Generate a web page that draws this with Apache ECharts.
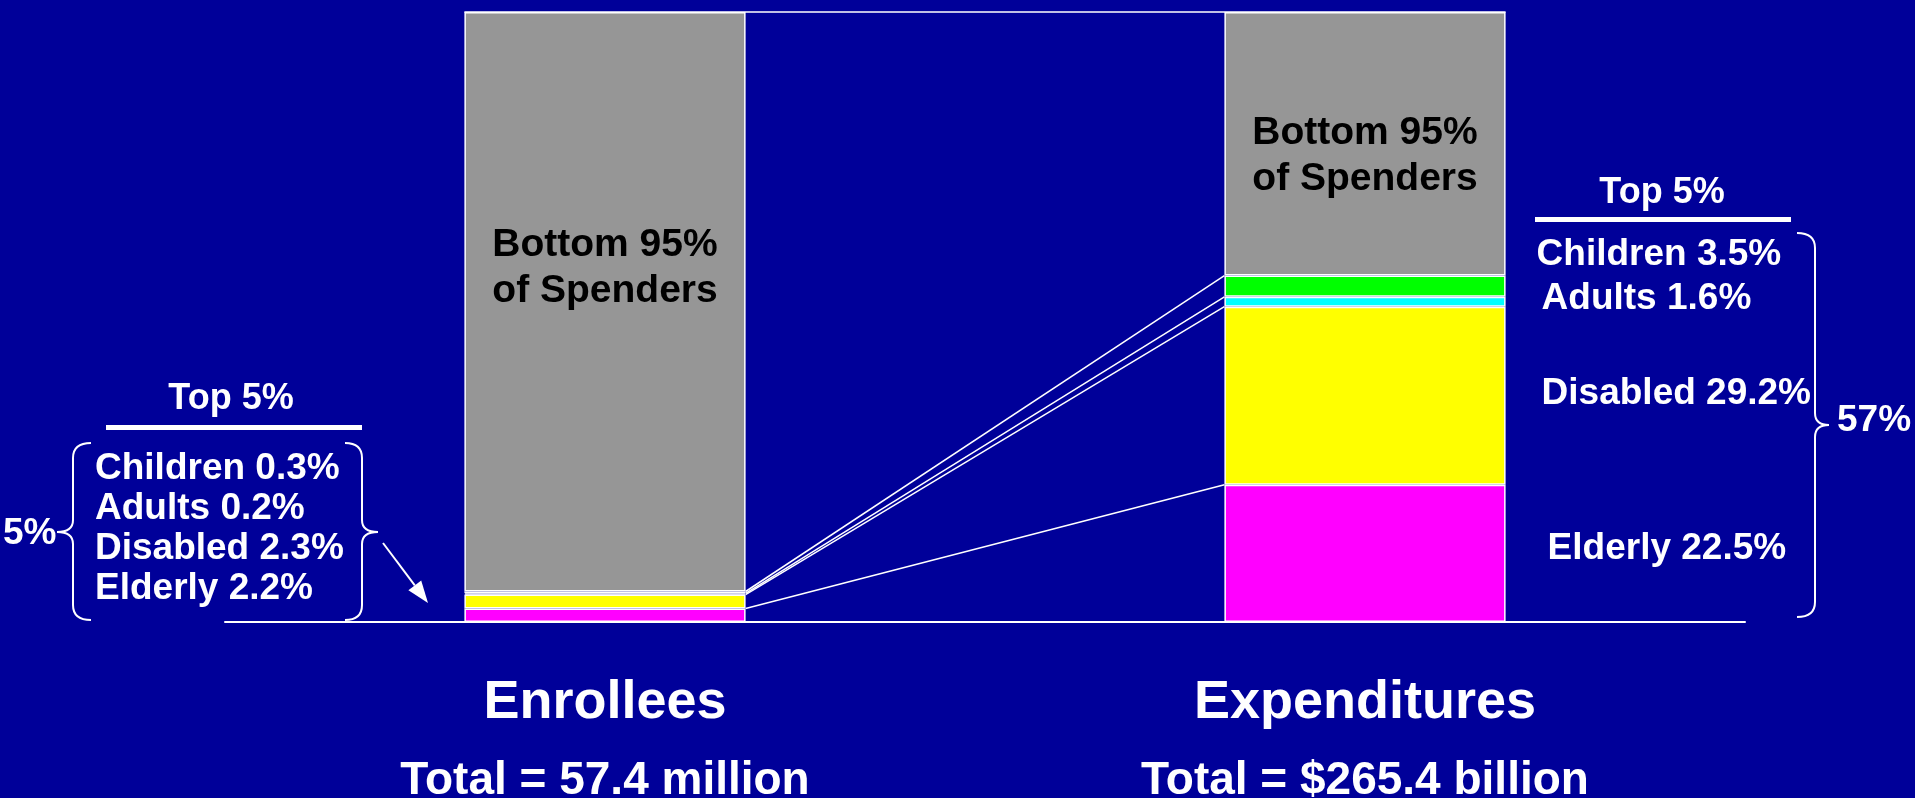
<!DOCTYPE html>
<html>
<head>
<meta charset="utf-8">
<script src="https://cdn.jsdelivr.net/npm/echarts@6/dist/echarts.min.js"></script>
<style>
  html, body { margin: 0; padding: 0; background: #000099; }
  #chart { width: 1915px; height: 798px; }
</style>
</head>
<body>
<div id="chart"></div>
<script>
// stacked from the baseline upward
var categories = ['Enrollees', 'Expenditures'];
var totals = ['Total = 57.4 million', 'Total = $265.4 billion'];
var elderly = [2.2, 22.5];
var disabled = [2.3, 29.2];
var adults = [0.2, 1.6];
var children = [0.3, 3.5];
var bottom95 = [95, 43.2];
var bottomLabel = 'Bottom 95%\nof Spenders';
var topLabel = 'Top 5%';

var FONT = '"Liberation Sans", Arial, sans-serif';
var BAR_FRAC = 0.37;

var groups = [
  { name: 'Elderly', data: elderly, color: '#ff00ff', off: [6, -5] },
  { name: 'Disabled', data: disabled, color: '#ffff00', off: [0, -2] },
  { name: 'Adults', data: adults, color: '#00ffff', off: [0, -3] },
  { name: 'Children', data: children, color: '#00ff00', off: [-5, -31] }
];

// cumulative tops of each top-5% segment, for the connector lines
var cumLeft = [], cumRight = [];
var accL = 0, accR = 0;
groups.forEach(function (g) {
  accL += g.data[0]; accR += g.data[1];
  cumLeft.push(+accL.toFixed(2)); cumRight.push(+accR.toFixed(2));
});

var chart = echarts.init(document.getElementById('chart'));

var series = groups.map(function (g) {
  return {
    name: g.name,
    type: 'bar',
    stack: 'all',
    barWidth: (BAR_FRAC * 100) + '%',
    itemStyle: { color: g.color, borderColor: '#ffffff', borderWidth: 1.5 },
    data: g.data.map(function (v, i) {
      return {
        value: v,
        label: i === 1 ? {
          show: true, position: 'right', distance: 36, offset: g.off,
          formatter: g.name + ' ' + v + '%',
          color: '#ffffff', fontFamily: FONT, fontWeight: 'bold', fontSize: 37
        } : { show: false }
      };
    })
  };
});

series.push({
  name: 'Bottom 95%',
  type: 'bar',
  stack: 'all',
  itemStyle: { color: '#969696', borderColor: '#ffffff', borderWidth: 1.5 },
  label: {
    show: true, position: 'inside', formatter: bottomLabel,
    color: '#000000', fontFamily: FONT, fontWeight: 'bold', fontSize: 39, lineHeight: 46
  },
  data: [
    { value: bottom95[0], label: { offset: [0, -34] } },
    { value: bottom95[1], label: { offset: [0, 12] } }
  ]
});

// connectors between the bars + top frame line
var linkData = cumLeft.map(function (v, i) { return [0, v, 1, cumRight[i], 0]; });
linkData.push([0, 100, 1, 100, 1]);
series.push({
  type: 'custom',
  z: 5,
  silent: true,
  encode: { x: [0, 2], y: [1, 3] },
  data: linkData,
  renderItem: function (params, api) {
    var a = api.coord([api.value(0), api.value(1)]);
    var b = api.coord([api.value(2), api.value(3)]);
    var half = api.size([1, 0])[0] * BAR_FRAC / 2;
    var isTop = api.value(4) === 1;
    return {
      type: 'line',
      shape: isTop
        ? { x1: a[0] - half, y1: a[1], x2: b[0] + half, y2: b[1] }
        : { x1: a[0] + half, y1: a[1], x2: b[0] - half, y2: b[1] },
      style: { stroke: '#ffffff', lineWidth: 1.5 }
    };
  }
});

function brace(xOut, xMid, xTip, yTop, yTip, yBot) {
  var r = 15, st = { stroke: '#ffffff', lineWidth: 2, fill: null };
  return [
    { type: 'bezierCurve', shape: { x1: xOut, y1: yTop, x2: xMid, y2: yTop + r, cpx1: xMid, cpy1: yTop }, style: st },
    { type: 'line', shape: { x1: xMid, y1: yTop + r, x2: xMid, y2: yTip - 12 }, style: st },
    { type: 'bezierCurve', shape: { x1: xMid, y1: yTip - 12, x2: xTip, y2: yTip, cpx1: xMid, cpy1: yTip }, style: st },
    { type: 'bezierCurve', shape: { x1: xTip, y1: yTip, x2: xMid, y2: yTip + 12, cpx1: xMid, cpy1: yTip }, style: st },
    { type: 'line', shape: { x1: xMid, y1: yTip + 12, x2: xMid, y2: yBot - r }, style: st },
    { type: 'bezierCurve', shape: { x1: xMid, y1: yBot - r, x2: xOut, y2: yBot, cpx1: xMid, cpy1: yBot }, style: st }
  ];
}

function txt(text, x, y, size, align, extra) {
  var s = {
    text: text, x: x, y: y, fill: '#ffffff',
    font: 'bold ' + size + 'px ' + FONT,
    textAlign: align || 'left', textVerticalAlign: 'middle'
  };
  if (extra) for (var k in extra) s[k] = extra[k];
  return { type: 'text', silent: true, style: s };
}

// left block lists top-5% groups from Children down to Elderly
var leftLines = groups.slice().reverse().map(function (g) {
  return g.name + ' ' + g.data[0] + '%';
}).join('\n');
var sumLeft = Math.round(cumLeft[cumLeft.length - 1]);
var sumRight = Math.round(cumRight[cumRight.length - 1]);

// arrow
var ax0 = 383, ay0 = 543, ax1 = 428, ay1 = 603;
var dx = ax1 - ax0, dy = ay1 - ay0, len = Math.sqrt(dx * dx + dy * dy);
var ux = dx / len, uy = dy / len, hl = 22, hw = 8;
var bx = ax1 - ux * hl, by = ay1 - uy * hl;

var graphics = [
  txt(topLabel, 231, 399, 36, 'center'),
  { type: 'rect', shape: { x: 106, y: 425, width: 256, height: 5 }, style: { fill: '#ffffff' } },
  txt(leftLines, 95, 529, 37, 'left', { lineHeight: 40 }),
  txt(sumLeft + '%', 3, 534, 37, 'left'),
  txt(topLabel, 1662, 193, 36, 'center'),
  { type: 'rect', shape: { x: 1535, y: 217, width: 256, height: 5 }, style: { fill: '#ffffff' } },
  txt(sumRight + '%', 1837, 421, 37, 'left'),
  { type: 'line', shape: { x1: ax0, y1: ay0, x2: bx, y2: by }, style: { stroke: '#ffffff', lineWidth: 2 } },
  { type: 'polygon', shape: { points: [[ax1, ay1], [bx - uy * hw, by + ux * hw], [bx + uy * hw, by - ux * hw]] }, style: { fill: '#ffffff' } }
].concat(brace(91, 73, 57, 443, 532, 620))
 .concat(brace(345, 362, 378, 443, 532, 620))
 .concat(brace(1797, 1815, 1829, 233, 425, 617));

chart.setOption({
  backgroundColor: '#000099',
  animation: false,
  grid: { left: 225, right: 170, top: 12, bottom: 176, containLabel: false, outerBoundsMode: 'none' },
  xAxis: {
    type: 'category',
    data: categories,
    axisTick: { show: false },
    axisLine: { lineStyle: { color: '#ffffff', width: 2 } },
    axisLabel: {
      margin: 42,
      formatter: function (v, i) { return '{a|' + v + '}\n{b|' + totals[i] + '}'; },
      rich: {
        a: { color: '#ffffff', fontFamily: FONT, fontWeight: 'bold', fontSize: 54, lineHeight: 78 },
        b: { color: '#ffffff', fontFamily: FONT, fontWeight: 'bold', fontSize: 46, lineHeight: 78 }
      }
    }
  },
  yAxis: { type: 'value', min: 0, max: 100, show: false },
  series: series,
  graphic: graphics
});
</script>
</body>
</html>
